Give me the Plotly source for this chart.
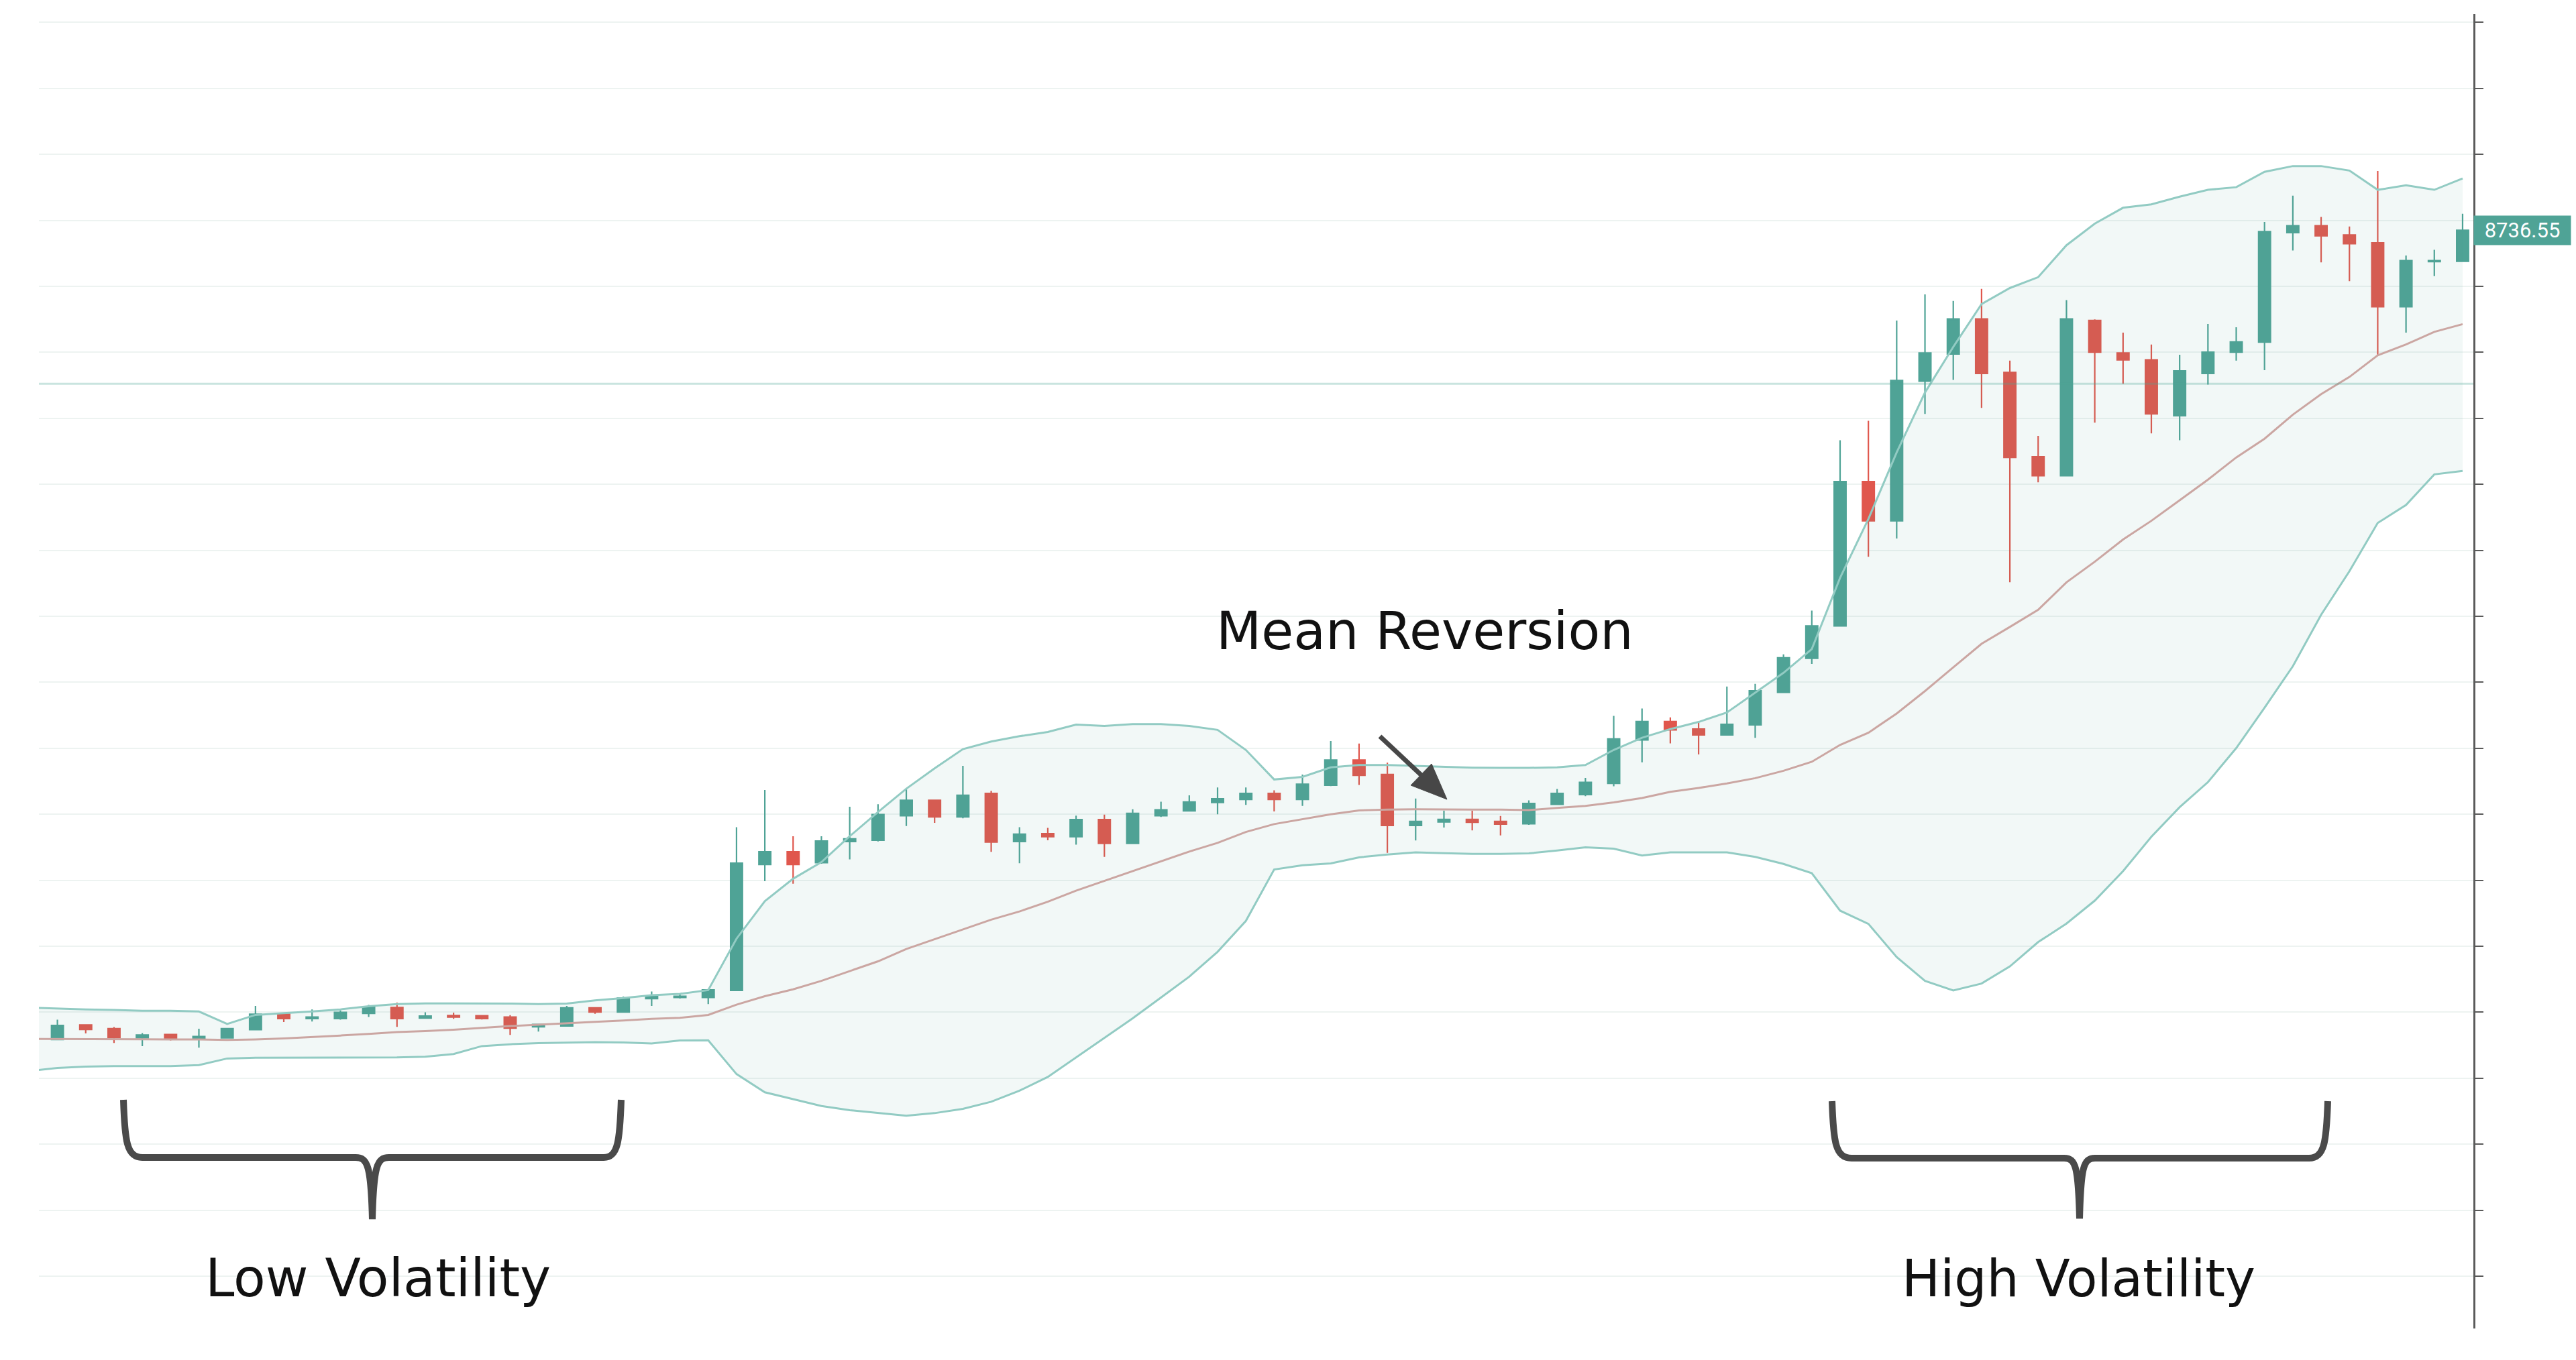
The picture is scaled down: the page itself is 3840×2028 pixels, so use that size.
import plotly.graph_objects as go

# ---------------- data ----------------
candle_x = list(range(86))
open_ = [5671, 5726, 5712, 5677, 5690, 5675, 5677, 5708, 5767, 5750,
         5750, 5770, 5792, 5752, 5762, 5761, 5756, 5719, 5722, 5791,
         5775, 5826, 5830, 5830, 5857, 6334, 6382, 6341, 6421, 6426,
         6519, 6577, 6514, 6603, 6421, 6451, 6439, 6504, 6414, 6519,
         6537, 6569, 6580, 6603, 6580, 6634, 6730, 6675, 6482, 6495,
         6505, 6497, 6488, 6562, 6599, 6641, 6806, 6876, 6847, 6825,
         6863, 6986, 7115, 7238, 7785, 7636, 8165, 8268, 8401, 8198,
         7879, 7807, 8395, 8272, 8246, 8034, 8194, 8275, 8313, 8728,
         8754, 8719, 8689, 8447, 8618, 8619]
high = [5746, 5727, 5718, 5695, 5692, 5712, 5715, 5798, 5768, 5785,
        5781, 5802, 5811, 5774, 5773, 5763, 5763, 5730, 5798, 5794,
        5834, 5853, 5845, 5862, 6475, 6616, 6441, 6441, 6553, 6562,
        6621, 6577, 6708, 6613, 6475, 6473, 6519, 6523, 6543, 6572,
        6596, 6626, 6626, 6615, 6675, 6802, 6792, 6720, 6584, 6538,
        6538, 6518, 6577, 6620, 6662, 6897, 6925, 6891, 6874, 7008,
        7018, 7130, 7296, 7941, 8015, 8395, 8494, 8469, 8515, 8243,
        7958, 8472, 8399, 8349, 8304, 8265, 8382, 8369, 8768, 8868,
        8787, 8751, 8961, 8641, 8663, 8799]
low = [5669, 5694, 5658, 5646, 5667, 5640, 5675, 5707, 5737, 5739,
       5746, 5756, 5719, 5750, 5749, 5747, 5688, 5701, 5720, 5768,
       5774, 5798, 5826, 5805, 5855, 6271, 6261, 6337, 6353, 6421,
       6480, 6492, 6509, 6382, 6339, 6426, 6409, 6363, 6412, 6514,
       6535, 6524, 6560, 6535, 6556, 6631, 6635, 6378, 6425, 6474,
       6463, 6444, 6484, 6560, 6593, 6630, 6721, 6793, 6751, 6824,
       6814, 6985, 7094, 7237, 7500, 7569, 8041, 8170, 8064, 7403,
       7782, 7806, 8008, 8155, 7967, 7941, 8152, 8243, 8207, 8660,
       8615, 8544, 8265, 8349, 8563, 8618]
close = [5724, 5709, 5678, 5688, 5675, 5682, 5712, 5767, 5750, 5756,
         5774, 5794, 5750, 5760, 5756, 5750, 5714, 5728, 5791, 5775,
         5828, 5836, 5835, 5859, 6339, 6382, 6334, 6423, 6431, 6523,
         6577, 6514, 6596, 6419, 6449, 6439, 6504, 6414, 6528, 6541,
         6571, 6583, 6603, 6580, 6638, 6730, 6672, 6482, 6497, 6505,
         6494, 6487, 6565, 6603, 6645, 6810, 6876, 6844, 6825, 6865,
         6992, 7117, 7238, 7785, 7636, 8168, 8272, 8401, 8194, 7876,
         7807, 8401, 8275, 8246, 8041, 8204, 8275, 8314, 8732, 8754,
         8716, 8686, 8447, 8622, 8622, 8736.55]

band_x = list(range(-1, 86))
upper = [5792, 5788, 5785, 5783, 5780, 5780, 5777, 5730, 5764, 5771,
         5777, 5785, 5797, 5805, 5808, 5808, 5808, 5807, 5805, 5807,
         5819, 5828, 5839, 5844, 5858, 6053, 6195, 6280, 6343, 6441,
         6533, 6621, 6698, 6771, 6800, 6820, 6836, 6864, 6859, 6866,
         6866, 6859, 6844, 6768, 6656, 6666, 6702, 6711, 6711, 6708,
         6704, 6701, 6700, 6700, 6702, 6711, 6768, 6814, 6847, 6874,
         6910, 6986, 7060, 7150, 7420, 7643, 7895, 8122, 8295, 8457,
         8518, 8559, 8680, 8762, 8822, 8835, 8864, 8890, 8900, 8958,
         8980, 8980, 8963, 8890, 8907, 8890, 8933]
middle = [5673, 5673, 5673, 5672, 5672, 5671, 5671, 5669, 5671, 5675,
          5680, 5686, 5692, 5699, 5703, 5708, 5715, 5722, 5727, 5733,
          5738, 5743, 5749, 5753, 5764, 5803, 5835, 5861, 5893, 5930,
          5967, 6014, 6051, 6088, 6125, 6156, 6193, 6235, 6272, 6309,
          6346, 6383, 6416, 6457, 6487, 6505, 6524, 6539, 6542, 6543,
          6542, 6542, 6542, 6540, 6548, 6556, 6569, 6586, 6609, 6624,
          6641, 6661, 6689, 6723, 6787, 6833, 6906, 6991, 7081, 7170,
          7234, 7299, 7403, 7481, 7565, 7636, 7714, 7792, 7876, 7947,
          8038, 8116, 8181, 8263, 8304, 8352, 8381]
lower = [5552, 5563, 5568, 5570, 5570, 5570, 5574, 5599, 5602, 5602,
         5602, 5602, 5603, 5603, 5606, 5616, 5646, 5653, 5657, 5659,
         5661, 5660, 5656, 5667, 5668, 5540, 5471, 5445, 5419, 5403,
         5392, 5382, 5392, 5408, 5435, 5477, 5529, 5603, 5677, 5751,
         5830, 5909, 6003, 6120, 6315, 6331, 6338, 6361, 6372, 6380,
         6377, 6374, 6374, 6376, 6387, 6399, 6394, 6368, 6380, 6380,
         6380, 6363, 6336, 6301, 6159, 6109, 5983, 5893, 5857, 5883,
         5948, 6040, 6110, 6197, 6309, 6439, 6551, 6646, 6775, 6928,
         7085, 7280, 7445, 7628, 7696, 7812, 7825]

ref_level = 8155
labels = ["Mean Reversion", "Low Volatility", "High Volatility"]

# ---------------- layout geometry ----------------
W, H = 3840, 2028
PL, PR, PT, PB = 58, 3687, 21, 1981
PW, PH = PR - PL, PB - PT
X_RANGE = [-0.654, 85.38]
Y_RANGE = [4576.1, 9555.8]


def px(x):
    return (x - PL) / PW


def py(y):
    return (PB - y) / PH


def P(x, y):
    return f"{px(x):.5f},{py(y):.5f}"


UP = "#4fa396"
DOWN = "#e0574d"
BAND = "#92cbc3"
MID = "#cba6a2"

fig = go.Figure()

fig.add_trace(go.Scatter(x=band_x, y=upper, mode="lines",
                         line=dict(color=BAND, width=3), hoverinfo="skip",
                         showlegend=False))
fig.add_trace(go.Scatter(x=band_x, y=lower, mode="lines",
                         line=dict(color=BAND, width=3), fill="tonexty",
                         fillcolor="rgba(77,166,148,0.075)", hoverinfo="skip",
                         showlegend=False))
fig.add_trace(go.Scatter(x=band_x, y=middle, mode="lines",
                         line=dict(color=MID, width=3), hoverinfo="skip",
                         showlegend=False))
fig.add_trace(go.Candlestick(
    x=candle_x, open=open_, high=high, low=low, close=close,
    increasing=dict(line=dict(color=UP, width=2.2), fillcolor=UP),
    decreasing=dict(line=dict(color=DOWN, width=2.2), fillcolor=DOWN),
    whiskerwidth=0, showlegend=False))

shapes = []
# horizontal price level line
shapes.append(dict(type="line", xref="paper", x0=0, x1=1, yref="y",
                   y0=ref_level, y1=ref_level, layer="above",
                   line=dict(color="rgba(77,166,148,0.30)", width=3)))

# braces
low_brace = (f"M {P(184,1640)} C {P(186,1702)} {P(189,1726)} {P(212,1726)} "
             f"L {P(530,1726)} C {P(548,1726)} {P(553,1738)} {P(555,1818)} "
             f"C {P(557,1738)} {P(562,1726)} {P(580,1726)} "
             f"L {P(900,1726)} C {P(921,1726)} {P(924,1702)} {P(926,1640)}")
high_brace = (f"M {P(2731,1642)} C {P(2733,1703)} {P(2736,1727)} {P(2760,1727)} "
              f"L {P(3077,1727)} C {P(3094,1727)} {P(3098,1739)} {P(3100,1817)} "
              f"C {P(3102,1739)} {P(3106,1727)} {P(3123,1727)} "
              f"L {P(3442,1727)} C {P(3465,1727)} {P(3468,1703)} {P(3470,1642)}")
for pth in (low_brace, high_brace):
    shapes.append(dict(type="path", xref="paper", yref="paper", path=pth,
                       line=dict(color="#4a4a4a", width=10),
                       fillcolor="rgba(0,0,0,0)", layer="above"))

# arrow (Mean Reversion)
shapes.append(dict(type="line", xref="paper", yref="paper",
                   x0=px(2057), y0=py(1098), x1=px(2121), y1=py(1158),
                   line=dict(color="#474747", width=7), layer="above"))
shapes.append(dict(type="path", xref="paper", yref="paper",
                   path=f"M {P(2134,1139)} L {P(2103,1171)} L {P(2157,1192)} Z",
                   fillcolor="#474747", line=dict(color="#474747", width=1),
                   layer="above"))

annotations = [
    dict(xref="paper", yref="paper", x=px(2124), y=py(941), text=labels[0],
         showarrow=False, xanchor="center", yanchor="middle",
         font=dict(family="DejaVu Sans", size=78, color="#111111")),
    dict(xref="paper", yref="paper", x=px(563), y=py(1906), text=labels[1],
         showarrow=False, xanchor="center", yanchor="middle",
         font=dict(family="DejaVu Sans", size=78, color="#111111")),
    dict(xref="paper", yref="paper", x=px(3098), y=py(1906), text=labels[2],
         showarrow=False, xanchor="center", yanchor="middle",
         font=dict(family="DejaVu Sans", size=76, color="#111111")),
    dict(xref="paper", yref="y", x=1, y=close[-1], text=f"{close[-1]:.2f}",
         showarrow=False, xanchor="left", yanchor="middle",
         width=144, height=43, borderpad=0, bgcolor=UP, align="center",
         font=dict(family="Roboto", size=31, color="#ffffff")),
]

fig.update_layout(
    width=W, height=H, autosize=False,
    margin=dict(l=PL, r=W - PR, t=PT, b=H - PB, pad=0),
    paper_bgcolor="white", plot_bgcolor="white",
    boxgap=0.4, showlegend=False,
    shapes=shapes, annotations=annotations,
    xaxis=dict(range=X_RANGE, showgrid=False, zeroline=False, showline=False,
               showticklabels=False, ticks="", rangeslider=dict(visible=False),
               fixedrange=True),
    yaxis=dict(range=Y_RANGE, side="right", showgrid=True, gridcolor="#edf3f1",
               gridwidth=2, zeroline=False, showline=True, linecolor="#5a5a5a",
               linewidth=3, ticks="outside", ticklen=12, tickwidth=2,
               tickcolor="#5a5a5a", showticklabels=False, tick0=24.1,
               dtick=250, fixedrange=True),
)

fig.write_html("out.html")
